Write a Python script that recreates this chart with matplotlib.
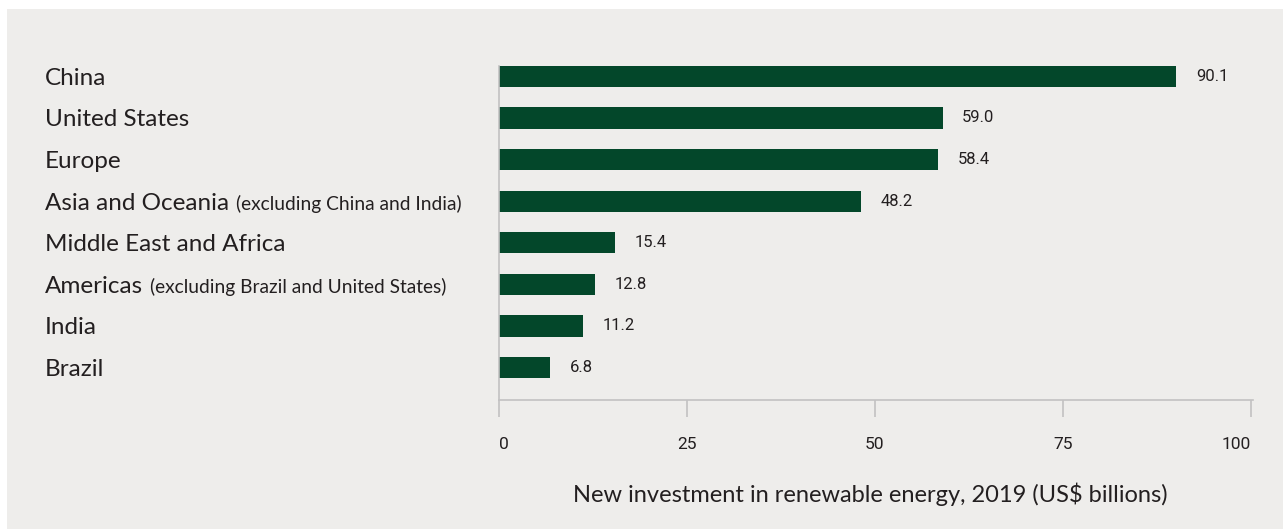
import matplotlib
matplotlib.use("Agg")
import matplotlib.pyplot as plt
import matplotlib.transforms as mtransforms
from matplotlib.patches import Rectangle

# Data
regions = ["China", "United States", "Europe", "Asia and Oceania",
           "Middle East and Africa", "Americas", "India", "Brazil"]
notes = ["", "", "", "(excluding China and India)", "",
         "(excluding Brazil and United States)", "", ""]
values = [90.1, 59.0, 58.4, 48.2, 15.4, 12.8, 11.2, 6.8]
xticks = [0, 25, 50, 75, 100]
xlabel = "New investment in renewable energy, 2019 (US$ billions)"

bg = "#eeedeb"
bar_color = "#03472a"
text_color = "#231f20"
spine_color = "#c2c1c2"
label_font = ["Lato", "DejaVu Sans"]
num_font = ["Roboto", "DejaVu Sans"]

W, H = 1283, 529
fig = plt.figure(figsize=(W / 100, H / 100), dpi=100, facecolor="white")
# grey panel (white strip on the top and left edges)
fig.patches.append(Rectangle((7 / W, 0), 1, 1 - 9 / H, transform=fig.transFigure,
                             facecolor=bg, edgecolor="none", zorder=-5))

ax = fig.add_axes([499 / W, 1 - 400 / H, (1253 - 499) / W, (400 - 66) / H])
ax.set_facecolor("none")
ax.set_zorder(2)

ypos = list(range(len(regions)))
ax.barh(ypos, values, height=0.51, color=bar_color, zorder=2)
ax.set_xlim(0, 100.3)
ax.set_ylim(len(regions) - 1 + 0.78, -0.25)

for y, v in zip(ypos, values):
    ax.text(v + 2.6, y, f"{v:.1f}", va="center", ha="left", fontsize=12,
            family=num_font, color=text_color)

ax.set_yticks([])
ax.set_xticks(xticks)
ax.set_xticklabels([str(t) for t in xticks], family=num_font, fontsize=12.5,
                   color=text_color)
ax.tick_params(axis="x", length=12.5, width=1.2, color=spine_color, pad=14)
for lbl in ax.get_xticklabels():
    if lbl.get_text() == "0":
        lbl.set_horizontalalignment("left")
    if lbl.get_text() == "100":
        lbl.set_horizontalalignment("right")

for s in ["top", "right"]:
    ax.spines[s].set_visible(False)
for s in ["left", "bottom"]:
    ax.spines[s].set_color(spine_color)
    ax.spines[s].set_linewidth(1.2)

fig.text(870 / W, 1 - 494 / H, xlabel, ha="center", va="center",
         fontsize=17, family=label_font, color=text_color)

# category labels: large name + smaller note, sharing a baseline
trans = mtransforms.blended_transform_factory(fig.transFigure, ax.transData)
base = trans + mtransforms.ScaledTranslation(0, -8.5 / 100, fig.dpi_scale_trans)
renderer = fig.canvas.get_renderer()
for y, name, note in zip(ypos, regions, notes):
    t = ax.text(45 / W, y, name, transform=base, ha="left", va="baseline",
                fontsize=17.5, family=label_font, color=text_color)
    if note:
        x1 = t.get_window_extent(renderer).x1
        xf = (x1 + 7) / W
        ax.text(xf, y, note, transform=base, ha="left", va="baseline",
                fontsize=13.8, family=label_font, color=text_color)

fig.savefig("out.png", dpi=100, facecolor="white")
